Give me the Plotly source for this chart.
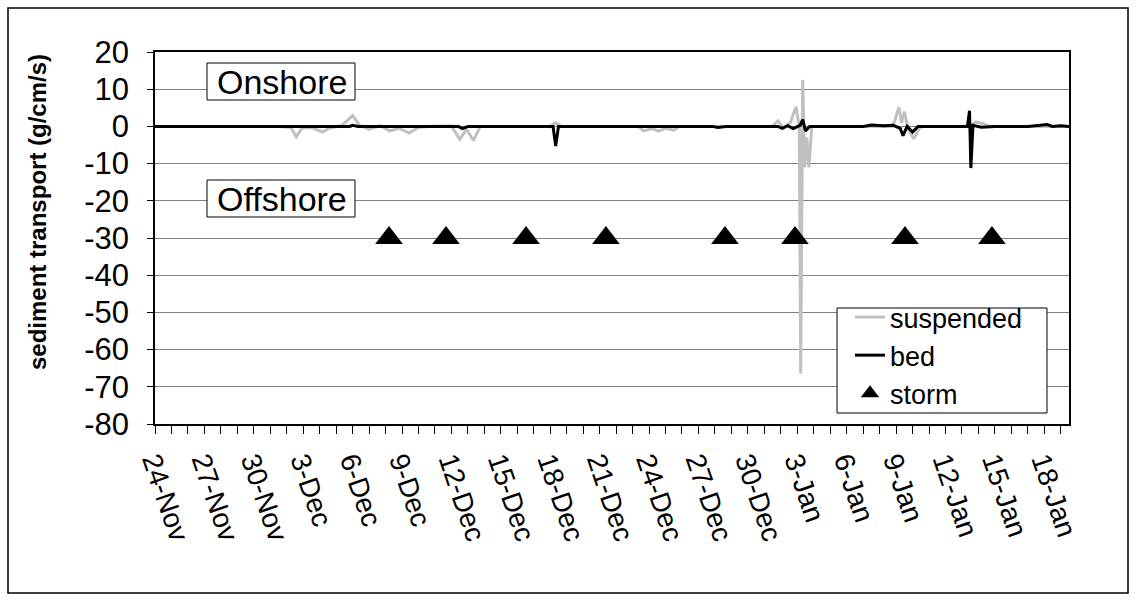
import plotly.graph_objects as go

# Record day along the category axis (0 = 24-Nov), one slot per sampled day
susp_day = [
    0.0, 7.5, 8.25, 8.58, 8.92, 9.5, 10.17, 10.58, 11.33, 12.0, 12.42, 13.0,
    13.67, 14.25, 14.83, 15.42, 16.0, 16.67, 18.0, 18.5, 18.92, 19.33, 19.75,
    24.0, 24.33, 24.67, 29.33, 29.67, 30.17, 30.58, 31.0, 31.5, 31.83,
    37.5, 37.83, 38.17, 38.58, 38.92, 39.12, 39.21, 39.33, 39.46, 39.58, 39.71,
    39.88, 44.75, 44.92, 45.17, 45.33, 45.5, 45.75, 46.08, 46.42, 46.75,
    49.5, 49.83, 50.25, 50.67, 55.5,
]
# Suspended sediment transport (g/cm/s)
susp_value = [
    0.0, 0.0, -0.3, -2.8, -0.5, -0.3, -1.5, -0.5, 0.2, 2.9, 0.3, -0.8,
    0.2, -1.2, -0.5, -1.8, -0.3, 0.0, 0.2, -3.5, -0.8, -3.8, 0.0,
    0.0, 1.0, 0.0, 0.0, -1.2, -0.6, -1.3, -0.5, -1.0, 0.0,
    0.0, 1.5, -0.5, 1.0, 5.3, 0.0, -66.5, 12.5, -11.0, -3.0, -11.0,
    0.0, 0.0, 1.5, 5.2, 1.0, 4.0, -1.0, -3.3, -0.3, 0.0,
    0.0, 1.2, 0.8, 0.0, 0.0,
]

bed_day = [
    0.0, 11.83, 12.0, 12.33, 18.42, 18.67, 19.0, 24.17, 24.33, 24.5,
    33.83, 34.17, 34.67, 37.83, 38.08, 38.42, 38.75, 39.17, 39.33, 39.5,
    39.75, 43.0, 43.5, 44.25, 44.83, 45.25, 45.42, 45.67, 46.0, 46.33,
    49.33, 49.46, 49.54, 49.67, 50.17, 51.0, 53.0, 54.17, 54.5, 55.0, 55.5,
]
# Bed load transport (g/cm/s)
bed_value = [
    0.0, 0.0, 0.3, 0.0, 0.0, -0.6, 0.0, 0.0, -5.3, 0.0,
    0.0, -0.3, 0.0, 0.0, -0.5, 0.2, -0.6, 0.3, 1.8, -1.2,
    0.0, 0.0, 0.4, 0.2, 0.3, -0.5, -2.5, 0.0, -1.5, 0.0,
    0.0, 4.2, -11.2, 0.3, -0.2, 0.0, 0.0, 0.5, 0.0, 0.2, 0.0,
]

# Storm events
storm_day = [14.21, 17.67, 22.53, 27.38, 34.61, 38.86, 45.54, 50.82]
storm_value = [-30, -30, -30, -30, -30, -30, -30, -30]

# Axis labels
x_tick_day = [0, 3, 6, 9, 12, 15, 18, 21, 24, 27, 30, 33, 36, 39, 42, 45, 48, 51, 54]
x_tick_text = [
    "24-Nov", "27-Nov", "30-Nov", "3-Dec", "6-Dec", "9-Dec", "12-Dec", "15-Dec",
    "18-Dec", "21-Dec", "24-Dec", "27-Dec", "30-Dec", "3-Jan", "6-Jan", "9-Jan",
    "12-Jan", "15-Jan", "18-Jan",
]
y_tick_vals = [20, 10, 0, -10, -20, -30, -40, -50, -60, -70, -80]
y_tick_text = ["20", "10", "0", "-10", "-20", "-30", "-40", "-50", "-60", "-70", "-80"]

FONT = "Arial, Liberation Sans, sans-serif"

# Plot-area geometry in pixels, used to place paper-referenced decorations
PL, PR, PT, PB = 155, 1069, 52, 424
PW, PH = PR - PL, PB - PT


def px(x):
    return (x - PL) / PW


def py(y):
    return (PB - y) / PH


fig = go.Figure()
fig.add_trace(go.Scatter(
    x=susp_day, y=susp_value, name="suspended", mode="lines",
    line=dict(color="#c0c0c0", width=3),
))
fig.add_trace(go.Scatter(
    x=bed_day, y=bed_value, name="bed", mode="lines",
    line=dict(color="#000000", width=3),
))
fig.add_trace(go.Scatter(
    x=storm_day, y=storm_value, name="storm", mode="markers",
    marker=dict(symbol="triangle-up", size=24, color="#000000"),
))

fig.update_layout(
    width=1136, height=601,
    margin=dict(l=PL, r=1136 - PR, t=PT, b=601 - PB),
    paper_bgcolor="white", plot_bgcolor="white",
    font=dict(family=FONT, color="black", size=26),
    showlegend=True,
    legend=dict(
        x=px(850), y=py(293), xanchor="left", yanchor="top",
        bgcolor="rgba(0,0,0,0)", borderwidth=0,
        font=dict(size=27, family=FONT),
        tracegroupgap=0,
    ),
    xaxis=dict(
        range=[0, 55.5],
        tickmode="array", tickvals=x_tick_day, ticktext=x_tick_text, tickangle=71,
        ticks="outside", ticklen=8, tickcolor="black", tickwidth=1,
        minor=dict(dtick=1, tick0=0, ticks="outside", ticklen=8, tickcolor="black", tickwidth=1),
        showline=True, linecolor="black", linewidth=1.5, mirror=True,
        showgrid=False, zeroline=False,
        tickfont=dict(size=28, family=FONT),
    ),
    yaxis=dict(
        range=[-80, 20],
        tickmode="array", tickvals=y_tick_vals, ticktext=y_tick_text,
        ticks="outside", ticklen=6, tickcolor="black", tickwidth=1,
        ticklabelstandoff=12,
        showline=True, linecolor="black", linewidth=1.5, mirror=True,
        showgrid=True, gridcolor="#808080", gridwidth=1, zeroline=False,
        tickfont=dict(size=31, family=FONT),
    ),
)

# Legend frame
fig.add_shape(
    type="rect", xref="paper", yref="paper",
    x0=px(837), x1=px(1047), y0=py(413), y1=py(308),
    line=dict(color="black", width=1), fillcolor="white", layer="above",
)

# Axis title placed to the left of the tick labels
fig.add_annotation(
    text="<b>sediment transport (g/cm/s)</b>", textangle=-90,
    xref="paper", yref="paper", x=px(38), y=py(212),
    xanchor="center", yanchor="middle", showarrow=False,
    font=dict(size=24, family=FONT, color="black"),
)

# Direction labels in boxed text
for label, top_px in (("Onshore", 63), ("Offshore", 180)):
    fig.add_shape(
        type="rect", xref="paper", yref="paper",
        x0=px(207), x1=px(355), y0=py(top_px + 37), y1=py(top_px),
        line=dict(color="black", width=1), fillcolor="white", layer="above",
    )
    fig.add_annotation(
        text=label, xref="paper", yref="paper",
        x=px(282), y=py(top_px + 18.5),
        xanchor="center", yanchor="middle", showarrow=False,
        font=dict(size=34, family=FONT, color="black"),
    )

# Outer frame around the whole chart
fig.add_shape(
    type="rect", xref="paper", yref="paper",
    x0=px(8), x1=px(1128), y0=py(593), y1=py(8),
    line=dict(color="black", width=1.5), layer="above",
)

fig.write_html("out.html")
